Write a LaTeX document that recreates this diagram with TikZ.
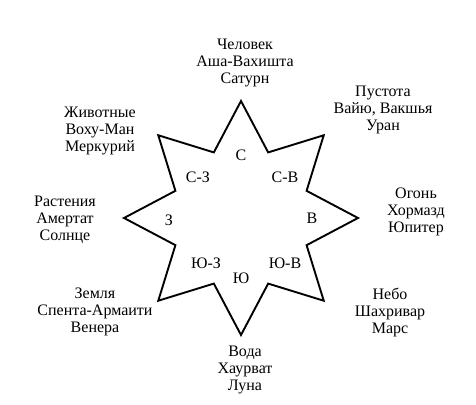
\documentclass[tikz,border=0pt]{standalone}
\usepackage{fontspec}
\setmainfont{Liberation Serif}
\begin{document}
\begin{tikzpicture}[x=1pt,y=1pt, font=\fontsize{16}{17}\selectfont]
\useasboundingbox (0,0) rectangle (476,404);
\begin{scope}[shift={(241,186)}]
\draw[line width=1.9pt] (90:117) -- (67.5:71) -- (45:117) -- (22.5:71) -- (0:117) -- (-22.5:71) -- (-45:117) -- (-67.5:71) -- (-90:117) -- (-112.5:71) -- (-135:117) -- (-157.5:71) -- (180:117) -- (157.5:71) -- (135:117) -- (112.5:71) -- cycle;
\end{scope}
 \node (n) at (241,249) {С};
 \node (nw) at (198,227) {С-З};
 \node (ne) at (285,227) {С-В};
 \node (w) at (169,184) {З};
 \node (e) at (312,186) {В};
 \node (sw) at (206,141) {Ю-З};
 \node (s) at (241,126) {Ю};
 \node (se) at (285,141) {Ю-В};
 \node[align=center] (man) at (245,341) {Человек\\Аша-Вахишта\\Сатурн};
 \node[align=center] (void) at (383,294) {Пустота\\Вайю, Вакшья\\Уран};
 \node[align=center] (fire) at (416,192) {Огонь\\Хормазд\\Юпитер};
 \node[align=center] (sky) at (390,92) {Небо\\Шахривар\\Марс};
 \node[align=center] (water) at (245,34) {Вода\\Хаурват\\Луна};
 \node[align=center] (earth) at (95,92) {Земля\\Спента-Армаити\\Венера};
 \node[align=center] (plants) at (65,184) {Растения\\Амертат\\Солнце};
 \node[align=center] (animals) at (100,273) {Животные\\Воху-Ман\\Меркурий};
\end{tikzpicture}
\end{document}
